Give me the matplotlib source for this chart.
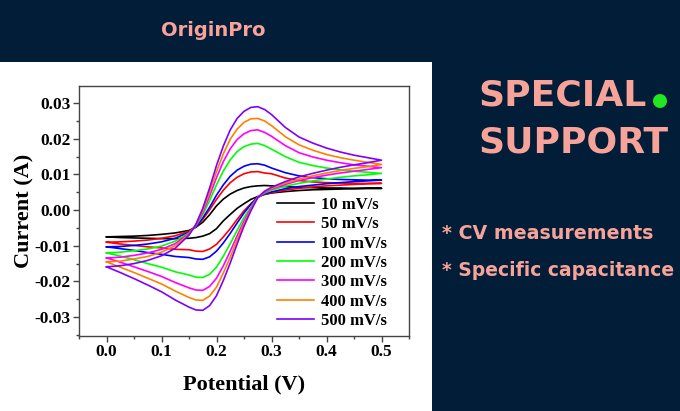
import matplotlib
matplotlib.use("Agg")
import matplotlib.pyplot as plt
from matplotlib.patches import Rectangle, Ellipse
from matplotlib.ticker import MultipleLocator, FormatStrFormatter

# potential grid (V), finer around the peaks
potential = [0.0, 0.025, 0.05, 0.075, 0.1, 0.125, 0.15, 0.1625, 0.175, 0.1875,
             0.2, 0.2125, 0.225, 0.2375, 0.25, 0.2625, 0.275, 0.2875, 0.3,
             0.325, 0.35, 0.375, 0.4, 0.425, 0.45, 0.475, 0.5]

scan_rates = ['10 mV/s', '50 mV/s', '100 mV/s', '200 mV/s', '300 mV/s', '400 mV/s', '500 mV/s']

# anodic (forward) sweep, current in A
fwd_10 = [-0.0075, -0.0074, -0.0073, -0.0071, -0.0068, -0.0064, -0.0057, -0.0048, -0.0034, -0.0013,
          0.0012, 0.0031, 0.0045, 0.0055, 0.0062, 0.0066, 0.0068, 0.0069, 0.0068,
          0.0066, 0.0064, 0.0063, 0.0062, 0.0062, 0.0061, 0.0061, 0.0061]
fwd_50 = [-0.0090, -0.0089, -0.0087, -0.0084, -0.0079, -0.0072, -0.0059, -0.0047, -0.0026, 0.0001,
          0.0030, 0.0056, 0.0077, 0.0092, 0.0102, 0.0107, 0.0108, 0.0104, 0.0102,
          0.0090, 0.0083, 0.0079, 0.0077, 0.0076, 0.0075, 0.0075, 0.0075]
fwd_100 = [-0.0103, -0.0102, -0.0099, -0.0095, -0.0089, -0.0079, -0.0062, -0.0047, -0.0022, 0.0008,
           0.0042, 0.0071, 0.0095, 0.0112, 0.0123, 0.0129, 0.0130, 0.0126, 0.0118,
           0.0105, 0.0096, 0.0091, 0.0088, 0.0086, 0.0085, 0.0084, 0.0084]
fwd_200 = [-0.0120, -0.0118, -0.0114, -0.0109, -0.0101, -0.0087, -0.0064, -0.0044, -0.0013, 0.0027,
           0.0071, 0.0110, 0.0141, 0.0164, 0.0178, 0.0185, 0.0187, 0.0181, 0.0171,
           0.0150, 0.0134, 0.0125, 0.0118, 0.0113, 0.0109, 0.0106, 0.0103]
fwd_300 = [-0.0134, -0.0132, -0.0127, -0.0120, -0.0110, -0.0094, -0.0066, -0.0043, -0.0006, 0.0040,
           0.0091, 0.0136, 0.0172, 0.0198, 0.0214, 0.0223, 0.0225, 0.0218, 0.0207,
           0.0181, 0.0161, 0.0149, 0.0140, 0.0133, 0.0127, 0.0123, 0.0119]
fwd_400 = [-0.0145, -0.0143, -0.0137, -0.0130, -0.0118, -0.0100, -0.0068, -0.0041, -0.0001, 0.0051,
           0.0108, 0.0158, 0.0199, 0.0227, 0.0246, 0.0256, 0.0257, 0.0250, 0.0237,
           0.0206, 0.0183, 0.0168, 0.0156, 0.0147, 0.0140, 0.0134, 0.0128]
fwd_500 = [-0.0159, -0.0156, -0.0150, -0.0141, -0.0128, -0.0107, -0.0070, -0.0040, 0.0005, 0.0062,
           0.0125, 0.0180, 0.0225, 0.0257, 0.0277, 0.0288, 0.0290, 0.0282, 0.0268,
           0.0232, 0.0205, 0.0188, 0.0174, 0.0163, 0.0154, 0.0147, 0.0140]

# cathodic (reverse) sweep, listed on the same potential grid
rev_10 = [-0.0075, -0.0077, -0.0078, -0.0079, -0.0080, -0.0080, -0.0079, -0.0077, -0.0073, -0.0066,
          -0.0052, -0.0030, -0.0012, 0.0005, 0.0018, 0.0030, 0.0038, 0.0044, 0.0048,
          0.0052, 0.0055, 0.0057, 0.0058, 0.0059, 0.0060, 0.0061, 0.0061]
rev_50 = [-0.0090, -0.0095, -0.0099, -0.0103, -0.0106, -0.0110, -0.0111, -0.0115, -0.0116, -0.0109,
          -0.0096, -0.0075, -0.0052, -0.0026, -0.0002, 0.0018, 0.0036, 0.0045, 0.0049,
          0.0056, 0.0061, 0.0065, 0.0068, 0.0070, 0.0072, 0.0074, 0.0075]
rev_100 = [-0.0103, -0.0108, -0.0113, -0.0119, -0.0124, -0.0130, -0.0133, -0.0137, -0.0138, -0.0131,
           -0.0115, -0.0092, -0.0065, -0.0036, -0.0008, 0.0016, 0.0036, 0.0046, 0.0051,
           0.0060, 0.0066, 0.0070, 0.0074, 0.0077, 0.0080, 0.0082, 0.0084]
rev_200 = [-0.0120, -0.0129, -0.0139, -0.0150, -0.0160, -0.0173, -0.0182, -0.0188, -0.0189, -0.0180,
           -0.0160, -0.0129, -0.0094, -0.0057, -0.0021, 0.0009, 0.0036, 0.0048, 0.0056,
           0.0067, 0.0075, 0.0082, 0.0087, 0.0092, 0.0096, 0.0099, 0.0103]
rev_300 = [-0.0134, -0.0146, -0.0159, -0.0172, -0.0186, -0.0203, -0.0218, -0.0224, -0.0225, -0.0214,
           -0.0191, -0.0156, -0.0115, -0.0072, -0.0031, 0.0005, 0.0035, 0.0050, 0.0059,
           0.0072, 0.0083, 0.0091, 0.0098, 0.0104, 0.0109, 0.0114, 0.0119]
rev_400 = [-0.0145, -0.0160, -0.0175, -0.0191, -0.0207, -0.0227, -0.0245, -0.0252, -0.0253, -0.0241,
           -0.0216, -0.0176, -0.0132, -0.0083, -0.0038, 0.0001, 0.0035, 0.0052, 0.0061,
           0.0076, 0.0087, 0.0096, 0.0104, 0.0111, 0.0117, 0.0122, 0.0128]
rev_500 = [-0.0159, -0.0175, -0.0192, -0.0210, -0.0229, -0.0252, -0.0272, -0.0280, -0.0281, -0.0268,
           -0.0240, -0.0197, -0.0148, -0.0095, -0.0045, -0.0002, 0.0035, 0.0053, 0.0064,
           0.0080, 0.0093, 0.0103, 0.0112, 0.0120, 0.0127, 0.0133, 0.0140]

forward = [fwd_10, fwd_50, fwd_100, fwd_200, fwd_300, fwd_400, fwd_500]
reverse = [rev_10, rev_50, rev_100, rev_200, rev_300, rev_400, rev_500]
colors = ['#000000', '#ff0000', '#0000ff', '#00ff00', '#ff00ff', '#ff8000', '#8000ff']

navy = '#021d37'
salmon = '#f7a399'

plt.rcParams['axes.unicode_minus'] = False

fig = plt.figure(figsize=(6.8, 4.11), dpi=100)
fig.patch.set_facecolor(navy)
fig.add_artist(Rectangle((0, 0), 432 / 680, 349 / 411, transform=fig.transFigure,
                         facecolor='white', edgecolor='none', zorder=0))

ax = fig.add_axes([79 / 680, 1 - 336 / 411, 330 / 680, 250 / 411])
ax.set_facecolor('white')

for name, f, r, c in zip(scan_rates, forward, reverse, colors):
    xs = potential + potential[::-1]
    ys = f + r[::-1]
    ax.plot(xs, ys, color=c, lw=1.2, label=name)

ax.set_xlim(-0.05, 0.55)
ax.set_ylim(-0.0353, 0.0348)
ax.xaxis.set_major_locator(MultipleLocator(0.1))
ax.xaxis.set_minor_locator(MultipleLocator(0.05))
ax.yaxis.set_major_locator(MultipleLocator(0.01))
ax.yaxis.set_minor_locator(MultipleLocator(0.005))
ax.xaxis.set_major_formatter(FormatStrFormatter('%.1f'))
ax.yaxis.set_major_formatter(FormatStrFormatter('%.2f'))
ax.tick_params(which='both', direction='out', top=False, right=False, color='#444444')
ax.tick_params(which='major', length=4, width=1, pad=2)
ax.tick_params(which='minor', length=2.5, width=1)
for sp in ax.spines.values():
    sp.set_color('#444444')
    sp.set_linewidth(1)

serif = 'Liberation Serif'
for lab in ax.get_xticklabels() + ax.get_yticklabels():
    lab.set_fontfamily(serif)
    lab.set_fontweight('bold')
    lab.set_fontsize(12.5)

ax.set_xlabel('Potential (V)', fontfamily=serif, fontweight='bold', fontsize=16)
ax.set_ylabel('Current (A)', fontfamily=serif, fontweight='bold', fontsize=16)
ax.xaxis.set_label_coords(0.5, -0.153)
ax.yaxis.set_label_coords(-0.135, 0.5)

ax.legend(loc='upper left', bbox_to_anchor=(0.6, 0.556), frameon=False,
          prop={'family': serif, 'weight': 'bold', 'size': 12},
          handlelength=2.2, labelspacing=0.2, handletextpad=0.45,
          borderpad=0, borderaxespad=0)

sans = 'DejaVu Sans'
fig.text(213 / 680, 1 - 30 / 411, 'OriginPro', color=salmon, fontfamily=sans,
         fontweight='bold', fontsize=14, ha='center', va='center')
fig.text(478 / 680, 1 - 96 / 411, 'SPECIAL', color=salmon, fontfamily=sans,
         fontweight='bold', fontsize=26, ha='left', va='center')
fig.text(478 / 680, 1 - 142 / 411, 'SUPPORT', color=salmon, fontfamily=sans,
         fontweight='bold', fontsize=26, ha='left', va='center')
fig.add_artist(Ellipse((660 / 680, 1 - 101 / 411), 14 / 680, 14 / 411,
                       transform=fig.transFigure, facecolor='#22e622', edgecolor='none'))
fig.text(442 / 680, 1 - 233 / 411, '* CV measurements', color=salmon, fontfamily=sans,
         fontweight='bold', fontsize=13.7, ha='left', va='center')
fig.text(442 / 680, 1 - 270 / 411, '* Specific capacitance', color=salmon, fontfamily=sans,
         fontweight='bold', fontsize=13.5, ha='left', va='center')

fig.savefig('out.png', dpi=100, facecolor=fig.get_facecolor())
